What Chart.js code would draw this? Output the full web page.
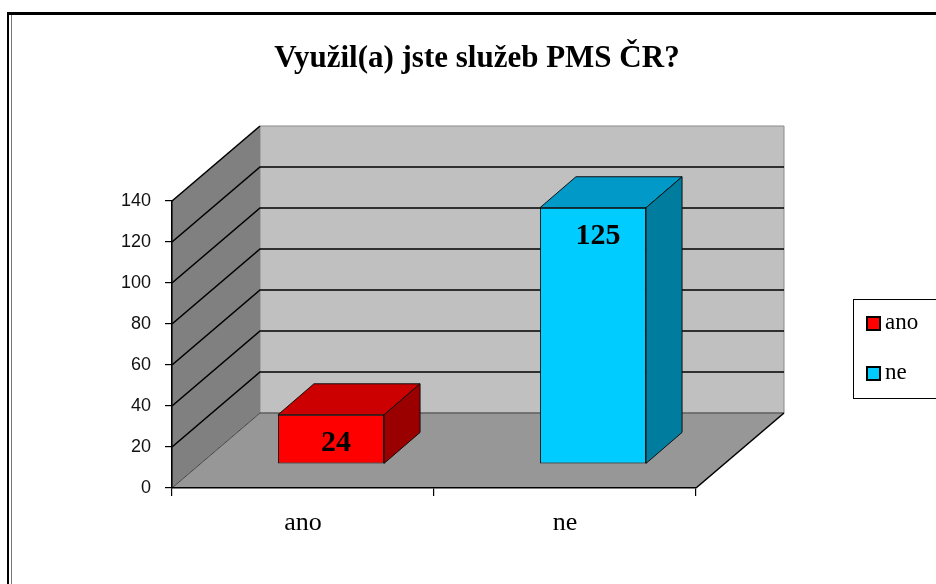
<!DOCTYPE html>
<html lang="cs">
<head>
<meta charset="utf-8">
<title>Využil(a) jste služeb PMS ČR?</title>
<script src="https://cdn.jsdelivr.net/npm/chart.js@4"></script>
<style>
    html, body { margin: 0; padding: 0; background: #fff; }
    #obal { position: relative; width: 936px; height: 584px; overflow: hidden; }
    #ramecek {
        position: absolute; left: 7px; top: 12px; width: 960px; height: 600px;
        border-left: 2px solid #000; border-top: 3px solid #000;
        box-shadow: inset 2px 0 0 #fff, inset 3px 0 0 #777;
        pointer-events: none;
    }
</style>
</head>
<body>
<div id="obal">
    <canvas id="graf" width="936" height="584"></canvas>
    <div id="ramecek"></div>
</div>
<script>
const kategorie = ['ano', 'ne'];
const hodnoty = [24, 125];
const osaYTicky = [0, 20, 40, 60, 80, 100, 120, 140];
const barvyCelo = ['#ff0000', '#00ccff'];
const barvyVrch = ['#cc0000', '#0099c8'];
const barvyBok = ['#9a0000', '#007c9e'];

document.addEventListener('DOMContentLoaded', function() {
    const canvas = document.getElementById('graf');

    // hloubka 3D podlahy a posun sloupcu do prostoru
    const hloubka = { x: 88, y: -75 };
    const posunSloupce = { x: 28, y: -24 };
    const hloubkaSloupce = { x: 36, y: -31 };

    const serif = "'Liberation Serif', 'Times New Roman', serif";

    function polygon(ctx, body, vypln, cara, sirka) {
        ctx.beginPath();
        ctx.moveTo(body[0][0], body[0][1]);
        for (let i = 1; i < body.length; i++) ctx.lineTo(body[i][0], body[i][1]);
        ctx.closePath();
        if (vypln) { ctx.fillStyle = vypln; ctx.fill(); }
        if (cara) { ctx.strokeStyle = cara; ctx.lineWidth = sirka || 1; ctx.stroke(); }
    }

    const prostor3D = {
        id: 'prostor3D',
        beforeDraw(chart) {
            const ctx = chart.ctx;
            const a = chart.chartArea;
            const y = chart.scales.y;
            const dx = hloubka.x, dy = hloubka.y;
            const horni = y.getPixelForValue(osaYTicky[osaYTicky.length - 1]);
            const dolni = y.getPixelForValue(0);
            ctx.save();
            // zadni stena
            polygon(ctx, [[a.left + dx, horni + dy], [a.right + dx, horni + dy],
                [a.right + dx, dolni + dy], [a.left + dx, dolni + dy]], '#c0c0c0', '#8a8a8a', 1);
            // leva stena
            polygon(ctx, [[a.left, horni], [a.left + dx, horni + dy],
                [a.left + dx, dolni + dy], [a.left, dolni]], '#808080');
            // podlaha
            polygon(ctx, [[a.left, dolni], [a.right, dolni],
                [a.right + dx, dolni + dy], [a.left + dx, dolni + dy]], '#979797');
            // mrizka na stenach
            osaYTicky.forEach(function(v) {
                const py = y.getPixelForValue(v);
                ctx.beginPath();
                ctx.moveTo(a.left, py);
                ctx.lineTo(a.left + dx, py + dy);
                if (v < osaYTicky[osaYTicky.length - 1]) ctx.lineTo(a.right + dx, py + dy);
                ctx.strokeStyle = v === 0 ? '#444' : '#000';
                ctx.lineWidth = v === 0 ? 1 : 1.6;
                ctx.stroke();
            });
            // prava hrana podlahy
            ctx.beginPath();
            ctx.moveTo(a.right, dolni);
            ctx.lineTo(a.right + dx, dolni + dy);
            ctx.strokeStyle = '#000';
            ctx.lineWidth = 1.6;
            ctx.stroke();
            ctx.restore();
        },
        beforeDatasetsDraw(chart) {
            chart.ctx.save();
            chart.ctx.translate(posunSloupce.x, posunSloupce.y);
        },
        afterDatasetsDraw(chart) {
            const ctx = chart.ctx;
            ctx.restore();
            const meta = chart.getDatasetMeta(0);
            const hx = hloubkaSloupce.x, hy = hloubkaSloupce.y;
            meta.data.forEach(function(bar, i) {
                const p = bar.getProps(['x', 'y', 'base', 'width'], true);
                const l = p.x - p.width / 2 + posunSloupce.x;
                const r = p.x + p.width / 2 + posunSloupce.x;
                const t = p.y + posunSloupce.y;
                const b = p.base + posunSloupce.y;
                ctx.save();
                polygon(ctx, [[l, t], [r, t], [r + hx, t + hy], [l + hx, t + hy]], barvyVrch[i], '#111', 1);
                polygon(ctx, [[r, t], [r + hx, t + hy], [r + hx, b + hy], [r, b]], barvyBok[i], '#111', 1);
                // popisek hodnoty
                ctx.font = 'bold 30px ' + serif;
                ctx.fillStyle = '#000';
                ctx.textAlign = 'center';
                ctx.textBaseline = 'middle';
                ctx.fillText(String(hodnoty[i]), (l + r) / 2 + 5, t + 28);
                ctx.restore();
            });
        },
        afterDraw(chart) {
            // legenda vpravo
            const ctx = chart.ctx;
            ctx.save();
            ctx.fillStyle = '#fff';
            ctx.fillRect(853.5, 299.5, 90, 99);
            ctx.strokeStyle = '#000';
            ctx.lineWidth = 1;
            ctx.strokeRect(853.5, 299.5, 90, 99);
            kategorie.forEach(function(nazev, i) {
                const yy = 317 + i * 50;
                ctx.fillStyle = barvyCelo[i];
                ctx.fillRect(867, yy, 13, 13);
                ctx.strokeStyle = '#000';
                ctx.lineWidth = 2;
                ctx.strokeRect(867, yy, 13, 13);
                ctx.fillStyle = '#000';
                ctx.font = '23px ' + serif;
                ctx.textAlign = 'left';
                ctx.textBaseline = 'middle';
                ctx.fillText(nazev, 885, yy + 6);
            });
            ctx.restore();
        }
    };

    new Chart(canvas.getContext('2d'), {
        type: 'bar',
        data: {
            labels: kategorie,
            datasets: [{
                label: 'Využil(a) jste služeb PMS ČR?',
                data: hodnoty,
                backgroundColor: barvyCelo,
                borderColor: '#111',
                borderWidth: 1,
                borderSkipped: false,
                barPercentage: 0.405,
                categoryPercentage: 1.0,
                clip: false,
                yAxisID: 'y'
            }]
        },
        options: {
            responsive: false,
            animation: false,
            layout: { padding: { left: 18, right: 0, top: 0, bottom: 0 } },
            plugins: {
                legend: { display: false },
                tooltip: { enabled: false },
                title: {
                    display: true,
                    text: 'Využil(a) jste služeb PMS ČR?',
                    color: '#000',
                    font: { family: serif, size: 31, weight: 'bold' },
                    padding: { top: 40, bottom: 123.8 }
                }
            },
            scales: {
                x: {
                    offset: true,
                    grid: { drawOnChartArea: false, offset: true, tickLength: 8, color: '#000', lineWidth: 1.2 },
                    border: { color: '#000', width: 1.6 },
                    ticks: { color: '#000', font: { family: serif, size: 26 }, padding: 12 },
                    afterFit: function(s) { s.height = 96; }
                },
                y: {
                    min: 0,
                    max: 140,
                    afterBuildTicks: function(s) { s.ticks = osaYTicky.map(v => ({ value: v })); },
                    grid: { drawOnChartArea: false, tickLength: 7, color: '#000', lineWidth: 1.2 },
                    border: { color: '#000', width: 1.6 },
                    ticks: { color: '#111', font: { family: "'Liberation Sans', Arial, sans-serif", size: 18 }, padding: 14 },
                    afterFit: function(s) { s.width = 154; }
                },
                vpravo: {
                    position: 'right',
                    display: true,
                    grid: { display: false },
                    border: { display: false },
                    ticks: { display: false },
                    afterFit: function(s) { s.width = 240; }
                }
            }
        },
        plugins: [prostor3D]
    });
});
</script>
</body>
</html>
